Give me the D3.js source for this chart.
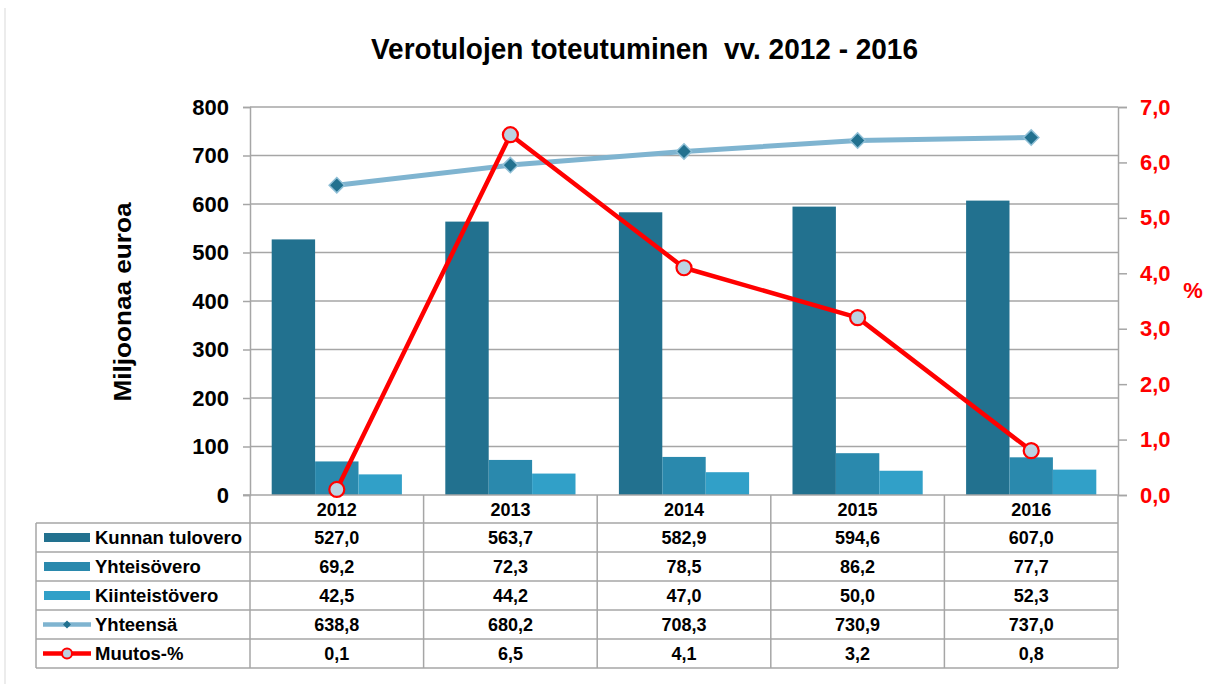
<!DOCTYPE html>
<html>
<head>
<meta charset="utf-8">
<script src="https://cdn.jsdelivr.net/npm/d3@7"></script>
<style>
  body { margin: 0; background: #fff; }
  svg { font-family: "Liberation Sans", Arial, sans-serif; font-weight: bold; }
</style>
</head>
<body>
<div id="chart"></div>
<script>
const years = ["2012", "2013", "2014", "2015", "2016"];
const kunnanTulovero = [527.0, 563.7, 582.9, 594.6, 607.0];
const yhteisovero = [69.2, 72.3, 78.5, 86.2, 77.7];
const kiinteistovero = [42.5, 44.2, 47.0, 50.0, 52.3];
const yhteensa = [638.8, 680.2, 708.3, 730.9, 737.0];
const muutos = [0.1, 6.5, 4.1, 3.2, 0.8];
const leftTicks = [0, 100, 200, 300, 400, 500, 600, 700, 800];
const rightTicks = [0, 1, 2, 3, 4, 5, 6, 7];

const barSeries = [
  { name: "Kunnan tulovero", values: kunnanTulovero, color: "#22718f" },
  { name: "Yhteisövero", values: yhteisovero, color: "#2a89ad" },
  { name: "Kiinteistövero", values: kiinteistovero, color: "#31a0c8" }
];

const W = 1209, H = 684;
const plotLeft = 250, plotRight = 1118, plotTop = 107, plotBottom = 495;
const rowH = 29, tableTop = 523, tableLeft = 36;
const GRID = "#a6a6a6";
const fmt = v => d3.format(".1f")(v).replace(".", ",");

const svg = d3.select("#chart").append("svg")
  .attr("width", W).attr("height", H);

// faint frame line at left
svg.append("line").attr("x1", 5).attr("x2", 5).attr("y1", 8).attr("y2", H)
  .attr("stroke", "#d9d9d9").attr("stroke-width", 1);

let x = d3.scaleBand().domain(years).range([plotLeft, plotRight]);
let xInner = d3.scaleBand().domain(barSeries.map(s => s.name))
  .range([0, x.bandwidth()]).paddingOuter(0.5);
let y = d3.scaleLinear().domain([0, 800]).range([plotBottom, plotTop]);
let y2 = d3.scaleLinear().domain([0, 7]).range([plotBottom, plotTop]);

// title (narrow look, double space kept)
svg.append("text").attr("x", 644.5).attr("y", 59)
  .attr("text-anchor", "middle").attr("font-size", 29)
  .style("white-space", "pre")
  .attr("font-family", "'Liberation Sans Narrow', 'Liberation Sans', Arial, sans-serif")
  .attr("textLength", 547).attr("lengthAdjust", "spacingAndGlyphs")
  .text("Verotulojen toteutuminen  vv. 2012 - 2016");

// gridlines
svg.append("g").selectAll("line").data(leftTicks.slice(1)).join("line")
  .attr("x1", plotLeft).attr("x2", plotRight)
  .attr("y1", d => y(d)).attr("y2", d => y(d))
  .attr("stroke", GRID).attr("stroke-width", 1.5);

// left axis
let gL = svg.append("g").attr("transform", `translate(${plotLeft},0)`)
  .call(d3.axisLeft(y).tickValues(leftTicks).tickSize(7).tickPadding(14));
gL.select(".domain").attr("stroke", GRID).attr("stroke-width", 1.5);
gL.selectAll(".tick line").attr("stroke", GRID).attr("stroke-width", 1.5);
gL.selectAll("text").attr("font-size", 22).attr("font-family", "Liberation Sans")
  .attr("font-weight", "bold").attr("fill", "#000");

// right axis
let gR = svg.append("g").attr("transform", `translate(${plotRight},0)`)
  .call(d3.axisRight(y2).tickValues(rightTicks).tickSize(9).tickPadding(13).tickFormat(fmt));
gR.select(".domain").attr("stroke", GRID).attr("stroke-width", 1.5);
gR.selectAll(".tick line").attr("stroke", GRID).attr("stroke-width", 1.5);
gR.selectAll("text").attr("font-size", 22).attr("font-family", "Liberation Sans")
  .attr("font-weight", "bold").attr("fill", "#ff0000");

// axis titles
svg.append("text").attr("transform", "translate(131,302) rotate(-90)")
  .attr("text-anchor", "middle").attr("font-size", 23)
  .attr("textLength", 199).attr("lengthAdjust", "spacingAndGlyphs")
  .text("Miljoonaa euroa");
svg.append("text").attr("x", 1193).attr("y", 298)
  .attr("text-anchor", "middle").attr("font-size", 22).attr("fill", "#ff0000")
  .text("%");

// bars
barSeries.forEach(s => {
  svg.append("g").selectAll("rect").data(s.values).join("rect")
    .attr("x", (d, i) => x(years[i]) + xInner(s.name))
    .attr("width", xInner.bandwidth())
    .attr("y", d => y(d))
    .attr("height", d => y(0) - y(d))
    .attr("fill", s.color);
});

// bottom axis line (also table header line)
svg.append("line").attr("x1", plotLeft - 7).attr("x2", plotRight)
  .attr("y1", plotBottom).attr("y2", plotBottom)
  .attr("stroke", GRID).attr("stroke-width", 1.5);

const cx = d => x(d) + x.bandwidth() / 2;

// Yhteensä line
svg.append("path").datum(yhteensa)
  .attr("d", d3.line().x((d, i) => cx(years[i])).y(d => y(d)))
  .attr("fill", "none").attr("stroke", "#7fb4d0").attr("stroke-width", 5);
svg.append("g").selectAll("path").data(yhteensa).join("path")
  .attr("d", d3.symbol(d3.symbolDiamond2, 150)())
  .attr("transform", (d, i) => `translate(${cx(years[i])},${y(d)})`)
  .attr("fill", "#22718f").attr("stroke", "#8fbfd6").attr("stroke-width", 1.5);

// Muutos line
svg.append("path").datum(muutos)
  .attr("d", d3.line().x((d, i) => cx(years[i])).y(d => y2(d)))
  .attr("fill", "none").attr("stroke", "#ff0000").attr("stroke-width", 4.5)
  .attr("stroke-linejoin", "round");
svg.append("g").selectAll("circle").data(muutos).join("circle")
  .attr("cx", (d, i) => cx(years[i])).attr("cy", d => y2(d)).attr("r", 7.5)
  .attr("fill", "#bcd2e2").attr("stroke", "#ff0000").attr("stroke-width", 2.2);

// data table
const rows = [
  { name: "Kunnan tulovero", values: kunnanTulovero, type: "bar", color: barSeries[0].color },
  { name: "Yhteisövero", values: yhteisovero, type: "bar", color: barSeries[1].color },
  { name: "Kiinteistövero", values: kiinteistovero, type: "bar", color: barSeries[2].color },
  { name: "Yhteensä", values: yhteensa, type: "diamond" },
  { name: "Muutos-%", values: muutos, type: "circle" }
];
const tableBottom = tableTop + rows.length * rowH;
let tbl = svg.append("g");

// horizontal lines
tbl.selectAll("line.h").data(d3.range(rows.length + 1)).join("line")
  .attr("class", "h")
  .attr("x1", tableLeft).attr("x2", plotRight)
  .attr("y1", i => tableTop + i * rowH).attr("y2", i => tableTop + i * rowH)
  .attr("stroke", GRID).attr("stroke-width", 1.5);
// vertical lines
const vx = years.map(d => x(d)).concat([plotRight]);
tbl.selectAll("line.v").data(vx).join("line")
  .attr("class", "v")
  .attr("x1", d => d).attr("x2", d => d)
  .attr("y1", plotBottom).attr("y2", tableBottom)
  .attr("stroke", GRID).attr("stroke-width", 1.5);
tbl.append("line").attr("x1", tableLeft).attr("x2", tableLeft)
  .attr("y1", tableTop).attr("y2", tableBottom)
  .attr("stroke", GRID).attr("stroke-width", 1.5);

// year labels
tbl.selectAll("text.year").data(years).join("text")
  .attr("class", "year")
  .attr("x", d => cx(d)).attr("y", (plotBottom + tableTop) / 2 + 6.5)
  .attr("text-anchor", "middle").attr("font-size", 18)
  .text(d => d);

rows.forEach((r, ri) => {
  const ym = tableTop + ri * rowH + rowH / 2;
  if (r.type === "bar") {
    tbl.append("rect").attr("x", 44).attr("y", ym - 4.5).attr("width", 46).attr("height", 9)
      .attr("fill", r.color);
  } else if (r.type === "diamond") {
    tbl.append("line").attr("x1", 43).attr("x2", 91).attr("y1", ym).attr("y2", ym)
      .attr("stroke", "#7fb4d0").attr("stroke-width", 4.5);
    tbl.append("path").attr("d", d3.symbol(d3.symbolDiamond2, 40)())
      .attr("transform", `translate(67,${ym})`).attr("fill", "#22718f");
  } else {
    tbl.append("line").attr("x1", 43).attr("x2", 91).attr("y1", ym).attr("y2", ym)
      .attr("stroke", "#ff0000").attr("stroke-width", 4.5);
    tbl.append("circle").attr("cx", 67).attr("cy", ym).attr("r", 5)
      .attr("fill", "#bcd2e2").attr("stroke", "#ff0000").attr("stroke-width", 2);
  }
  tbl.append("text").attr("x", 95).attr("y", ym + 6.5).attr("font-size", 18.5)
    .text(r.name);
  tbl.selectAll(null).data(r.values).join("text")
    .attr("x", (d, i) => cx(years[i])).attr("y", ym + 6.5)
    .attr("text-anchor", "middle").attr("font-size", 18)
    .text(d => fmt(d));
});
</script>
</body>
</html>
